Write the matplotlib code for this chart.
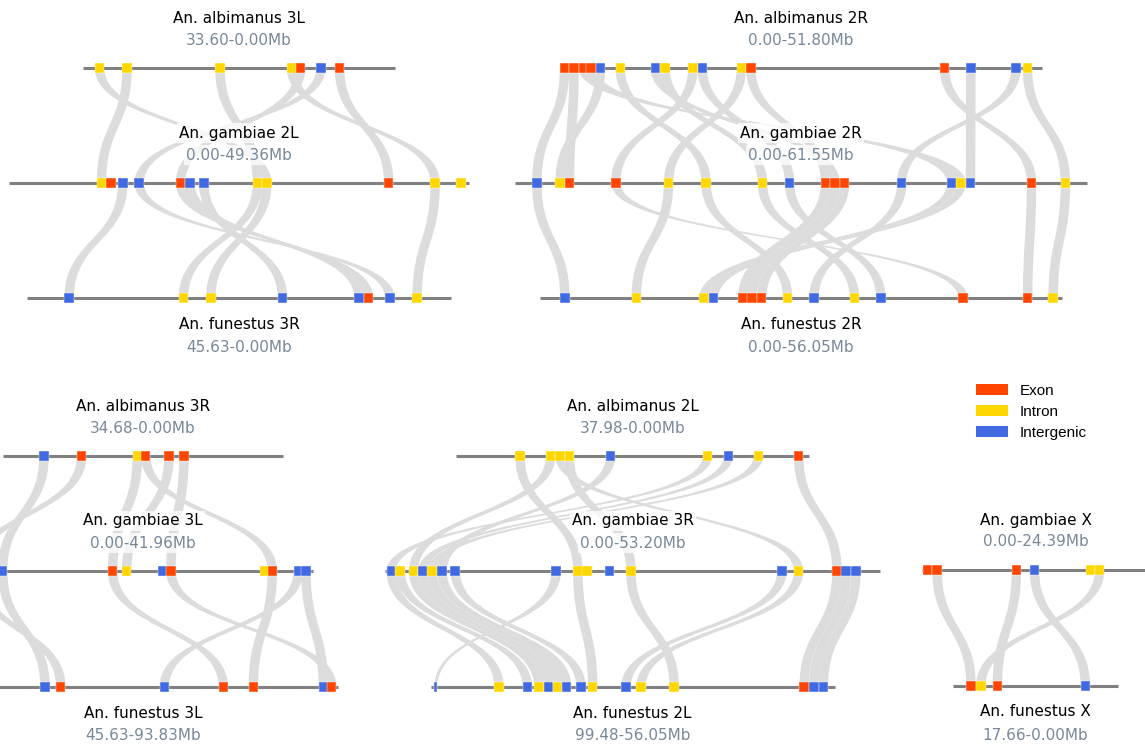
import matplotlib.pyplot as plt
from matplotlib.path import Path
from matplotlib.patches import PathPatch, Rectangle, Patch

# marker types: E = exon, I = intron, G = intergenic
type_colors = {'E': '#ff4500', 'I': '#ffd700', 'G': '#4169e1'}
type_names = {'E': 'Exon', 'I': 'Intron', 'G': 'Intergenic'}

# ---- panel 1 ----
alb_3L_pos = [31.79, 28.85, 18.85, 11.15, 10.18, 7.99, 5.99]
alb_3L_type = 'IIIIEGE'
gam_2L_pos = [9.89, 10.89, 12.18, 13.95, 18.39, 19.39, 20.89, 26.67, 27.67, 40.78, 45.77, 48.53]
gam_2L_type = 'IEGGEGGIIEII'
fun_3R_pos = [41.08, 28.79, 25.85, 18.15, 9.90, 8.90, 6.60, 3.66]
fun_3R_type = 'GIIGGEGI'
links_alb3L_gam2L = [(0, 8), (1, 0), (2, 7), (3, 10), (4, 4), (5, 3), (6, 9)]
links_gam2L_fun3R = [(2, 0), (3, 6), (4, 5), (5, 4), (6, 3), (7, 1), (8, 2), (10, 7)]

# ---- panel 2 ----
alb_2R_pos = [0.48, 1.49, 2.51, 3.31, 4.33, 6.47, 10.24, 11.28, 14.28, 15.29, 19.49, 20.51,
              41.34, 44.17, 49.03, 50.25]
alb_2R_type = 'EEEEGIGIIGIEEGGI'
gam_2R_pos = [2.37, 4.87, 5.88, 10.86, 16.53, 20.57, 26.63, 29.55, 33.43, 34.44, 35.45, 41.60,
              46.99, 47.99, 49.00, 55.56, 59.20]
gam_2R_type = 'GIEEIIIGEEEGGIGEI'
fun_2R_pos = [2.63, 10.32, 17.60, 18.61, 21.77, 22.78, 23.80, 26.58, 29.42, 33.78, 36.61, 45.43,
              52.40, 55.14]
fun_2R_type = 'GIIGEEEIGIGEEI'
links_alb2R_gam2R = [(0, 0), (1, 2), (2, 13), (3, 12), (4, 1), (5, 5), (6, 9), (7, 6), (8, 3),
                     (9, 7), (10, 4), (11, 8), (12, 15), (13, 14), (14, 11), (15, 16)]
links_gam2R_fun2R = [(0, 0), (3, 11), (4, 1), (5, 7), (6, 9), (7, 10), (8, 4), (9, 5), (10, 6),
                     (11, 8), (12, 2), (13, 3), (15, 12), (16, 13)]

# ---- panel 3 ----
alb_3R_pos = [29.56, 24.91, 18.04, 17.01, 14.13, 12.28]
alb_3R_type = 'GEIEEE'
gam_3L_pos = [0.44, 3.65, 17.23, 18.96, 23.41, 24.43, 35.95, 36.94, 40.15, 41.10]
gam_3L_type = 'EGEIGEIEGG'
fun_3L_pos = [57.63, 59.57, 72.36, 79.64, 83.35, 91.99, 93.03]
fun_3L_type = 'GEGEEGE'
links_alb3R_gam3L = [(0, 1), (1, 0), (2, 2), (3, 7), (4, 3), (5, 5)]
links_gam3L_fun3L = [(0, 1), (1, 0), (2, 3), (5, 6), (7, 4), (8, 2), (9, 5)]

# ---- panel 4 ----
alb_2L_pos = [31.10, 27.80, 26.80, 25.80, 21.35, 10.96, 8.70, 5.47, 1.13]
alb_2L_type = 'IIIIGIGIE'
gam_3R_pos = [0.65, 1.61, 3.04, 4.05, 5.05, 6.10, 7.53, 18.39, 20.72, 21.69, 24.09, 26.42,
              42.66, 44.44, 48.57, 49.57, 50.61]
gam_3R_type = 'GIIGIGGGIIGIGIEGG'
fun_2L_pos = [98.91, 92.14, 89.09, 87.83, 86.83, 85.82, 84.86, 83.32, 82.06, 78.48, 76.87,
              73.29, 59.31, 58.26, 57.26]
fun_2L_type = 'GIGIGIGGIGIIEGG'
fun_2L_narrow = [0]
links_alb2L_gam3R = [(0, 8), (1, 2), (2, 13), (3, 11), (4, 5), (5, 0), (6, 3), (7, 4), (8, 14)]
links_gam3R_fun2L = [(0, 1), (1, 2), (2, 3), (3, 4), (4, 5), (5, 6), (6, 7), (7, 0), (8, 8),
                     (11, 11), (12, 9), (13, 10), (14, 12), (15, 13), (16, 14)]

# ---- panel 5 ----
gam_X_pos = [0.60, 1.61, 10.14, 12.08, 18.10, 19.10]
gam_X_type = 'EEEGII'
fun_X_pos = [15.76, 14.71, 12.93, 3.47]
fun_X_type = 'EIEG'
links_gamX_funX = [(1, 0), (2, 2), (3, 3), (5, 1)]

# name, displayed start, displayed end (Mb), marker positions, marker types, narrow markers
chroms = {
    'alb_3L': ('An. albimanus 3L', 33.60, 0.00, alb_3L_pos, alb_3L_type, []),
    'gam_2L': ('An. gambiae 2L', 0.00, 49.36, gam_2L_pos, gam_2L_type, []),
    'fun_3R': ('An. funestus 3R', 45.63, 0.00, fun_3R_pos, fun_3R_type, []),
    'alb_2R': ('An. albimanus 2R', 0.00, 51.80, alb_2R_pos, alb_2R_type, []),
    'gam_2R': ('An. gambiae 2R', 0.00, 61.55, gam_2R_pos, gam_2R_type, []),
    'fun_2R': ('An. funestus 2R', 0.00, 56.05, fun_2R_pos, fun_2R_type, []),
    'alb_3R': ('An. albimanus 3R', 34.68, 0.00, alb_3R_pos, alb_3R_type, []),
    'gam_3L': ('An. gambiae 3L', 0.00, 41.96, gam_3L_pos, gam_3L_type, []),
    'fun_3L': ('An. funestus 3L', 45.63, 93.83, fun_3L_pos, fun_3L_type, []),
    'alb_2L': ('An. albimanus 2L', 37.98, 0.00, alb_2L_pos, alb_2L_type, []),
    'gam_3R': ('An. gambiae 3R', 0.00, 53.20, gam_3R_pos, gam_3R_type, []),
    'fun_2L': ('An. funestus 2L', 99.48, 56.05, fun_2L_pos, fun_2L_type, fun_2L_narrow),
    'gam_X': ('An. gambiae X', 0.00, 24.39, gam_X_pos, gam_X_type, []),
    'fun_X': ('An. funestus X', 17.66, 0.00, fun_X_pos, fun_X_type, []),
}

# layout (pixels): panel centre x, pixels per Mb, chromosome rows (key, y), links between rows
panels = [
    (239, 9.3, [('alb_3L', 68), ('gam_2L', 183), ('fun_3R', 298)],
     [links_alb3L_gam2L, links_gam2L_fun3R]),
    (801, 9.3, [('alb_2R', 68), ('gam_2R', 183), ('fun_2R', 298)],
     [links_alb2R_gam2R, links_gam2R_fun2R]),
    (143, 8.1, [('alb_3R', 456), ('gam_3L', 571), ('fun_3L', 687)],
     [links_alb3R_gam3L, links_gam3L_fun3L]),
    (632.6, 9.3, [('alb_2L', 456), ('gam_3R', 571), ('fun_2L', 687)],
     [links_alb2L_gam3R, links_gam3R_fun2L]),
    (1035.5, 9.3, [('gam_X', 570), ('fun_X', 686)],
     [links_gamX_funX]),
]

W, H = 1145, 753
MW = 9.5        # marker size, px
NARROW = 3.0

fig = plt.figure(figsize=(W / 100, H / 100), dpi=100)
ax = fig.add_axes([0, 0, 1, 1])
ax.set_xlim(0, W)
ax.set_ylim(H, 0)
ax.axis('off')


def to_px(key, mb, cx, scale):
    name, a, b = chroms[key][:3]
    length = abs(b - a) * scale
    left = cx - length / 2
    return left + (mb - a) / (b - a) * length


def marker_w(key, i):
    return NARROW if i in chroms[key][5] else MW


def ribbon(x1, y1, x2, y2, w1, w2):
    ym = (y1 + y2) / 2
    verts = [(x1 - w1 / 2, y1), (x1 - w1 / 2, ym), (x2 - w2 / 2, ym), (x2 - w2 / 2, y2),
             (x2 + w2 / 2, y2), (x2 + w2 / 2, ym), (x1 + w1 / 2, ym), (x1 + w1 / 2, y1),
             (x1 - w1 / 2, y1)]
    codes = [Path.MOVETO, Path.CURVE4, Path.CURVE4, Path.CURVE4, Path.LINETO,
             Path.CURVE4, Path.CURVE4, Path.CURVE4, Path.CLOSEPOLY]
    ax.add_patch(PathPatch(Path(verts, codes), facecolor='#dcdcdc', edgecolor='none', zorder=1))


box = dict(facecolor='white', alpha=0.75, edgecolor='none', pad=1.5)

for cx, scale, rows, links in panels:
    # ribbons between neighbouring rows
    for (k1, y1), (k2, y2), pairs in zip(rows[:-1], rows[1:], links):
        for i, j in pairs:
            x1 = to_px(k1, chroms[k1][3][i], cx, scale)
            x2 = to_px(k2, chroms[k2][3][j], cx, scale)
            ribbon(x1, y1, x2, y2, marker_w(k1, i), marker_w(k2, j))

    for r, (key, y) in enumerate(rows):
        name, a, b, pos, types, _ = chroms[key]
        x0, x1 = to_px(key, a, cx, scale), to_px(key, b, cx, scale)
        ax.plot([x0, x1], [y, y], color='#808080', lw=2.2, solid_capstyle='butt', zorder=2)
        for i, (p, t) in enumerate(zip(pos, types)):
            w = marker_w(key, i)
            xp = to_px(key, p, cx, scale)
            ax.add_patch(Rectangle((xp - w / 2, y - MW / 2), w, MW, facecolor=type_colors[t],
                                   edgecolor='white', lw=0.3, zorder=3))
        if r == len(rows) - 1:
            ty, ry = y + 26, y + 49
        else:
            ty, ry = y - 50, y - 28
        ax.text(cx, ty, name, ha='center', va='center', fontsize=11, color='black',
                bbox=box, zorder=4)
        ax.text(cx, ry, f'{a:.2f}-{b:.2f}Mb', ha='center', va='center', fontsize=11,
                color='#778899', bbox=box, zorder=4)

handles = [Patch(facecolor=type_colors[t], edgecolor='none', label=type_names[t]) for t in 'EIG']
ax.legend(handles=handles, loc='upper left', bbox_to_anchor=(962 / W, 1 - 370 / H),
          frameon=False, prop={'family': 'Liberation Sans', 'size': 11},
          handlelength=2.1, handleheight=0.78, handletextpad=0.75, labelspacing=0.45)

fig.savefig('out.png', dpi=100)
